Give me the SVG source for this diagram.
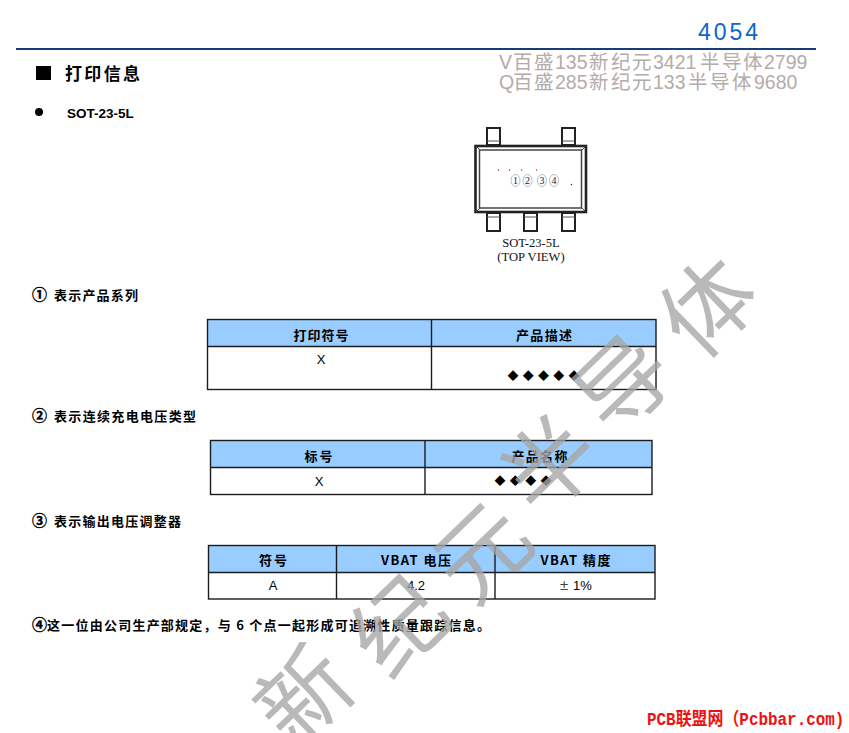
<svg xmlns="http://www.w3.org/2000/svg" width="849" height="733" viewBox="0 0 849 733">
<style>
text{font-family:"Liberation Sans","Noto Sans CJK SC",sans-serif;fill:#000}
.cjk{font-family:"Noto Sans CJK SC",sans-serif;font-weight:700}
.sec{font-size:13px}
.circ{font-size:15px;stroke:#000;stroke-width:.4}
.th{font-size:13px;text-anchor:middle}
.td{font-size:13px;text-anchor:middle}
.gr{font-size:19.500px;fill:#b3aca8;font-family:"Liberation Sans","Noto Sans CJK SC",sans-serif}
.ser{font-family:"Liberation Serif",serif;font-size:12.600px;text-anchor:middle;fill:#111}
.wm{font-family:"Noto Sans CJK SC",sans-serif;font-size:92px;text-anchor:middle;fill:#a6a6a6;opacity:.78}
.dia{font-size:11px}
.hd{fill:#99ccff}
.ln{fill:none;stroke:#1c1c1c;stroke-width:1.4}
.ci{fill:#fff;stroke:#8f9db0;stroke-width:.7}
.n{font-family:"Liberation Serif",serif;font-size:10px;text-anchor:middle;fill:#222}
</style>
<g id="page-header">
<rect x="16" y="48" width="800" height="2" fill="#1b3a78"/>
<text x="698" y="40" font-size="23" textLength="60" lengthAdjust="spacing" style="fill:#0a66cc">4054</text>
<text class="gr" y="69"><tspan x="499">V</tspan><tspan x="513">百</tspan><tspan x="534">盛</tspan><tspan x="555">135</tspan><tspan x="589">新</tspan><tspan x="611">纪</tspan><tspan x="632">元</tspan><tspan x="653">3421</tspan><tspan x="700">半</tspan><tspan x="722">导</tspan><tspan x="743">体</tspan><tspan x="764">2799</tspan></text>
<text class="gr" y="89"><tspan x="499">Q</tspan><tspan x="513">百</tspan><tspan x="534">盛</tspan><tspan x="555">285</tspan><tspan x="589">新</tspan><tspan x="611">纪</tspan><tspan x="632">元</tspan><tspan x="653">133</tspan><tspan x="688">半</tspan><tspan x="710">导</tspan><tspan x="732">体</tspan><tspan x="754">9680</tspan></text>
</g>
<g id="title">
<rect x="36" y="66" width="15" height="14" fill="#000"/>
<text class="cjk" x="65" y="79.500" font-size="17" textLength="75" lengthAdjust="spacing">打印信息</text>
<circle cx="39" cy="112" r="4" fill="#000"/>
<text x="67" y="118" font-size="13.500" font-weight="700">SOT-23-5L</text>
</g>
<g id="package">
<g fill="#fff" stroke="#222" stroke-width="2">
<rect x="487" y="128" width="13" height="17"/><rect x="562" y="128" width="13" height="17"/>
<rect x="487" y="213" width="13" height="18"/><rect x="524" y="213" width="13" height="18"/><rect x="562" y="213" width="13" height="18"/>
</g>
<path d="M487 141H500M562 141H575M487 217H500M524 217H537M562 217H575" stroke="#555" stroke-width="1"/>
<rect x="475.500" y="146" width="110.500" height="66" fill="#fff" stroke="#222" stroke-width="2.600"/>
<rect x="479.500" y="150" width="102" height="58" fill="#fff" stroke="#444" stroke-width="1.500"/>
<path d="M476 146L480 150M586 146L582 150M476 212L480 208M586 212L582 208" stroke="#444" stroke-width="1"/>
<g fill="#b02020"><circle cx="498.500" cy="170" r=".7"/><circle cx="509.500" cy="170" r=".7"/><circle cx="521.500" cy="170" r=".7"/><circle cx="536.500" cy="170" r=".7"/></g>
<circle cx="571.500" cy="184.500" r=".7" fill="#222"/>
<ellipse class="ci" cx="515.500" cy="180.500" rx="4.500" ry="6"/><text class="n" x="515.500" y="184">1</text>
<ellipse class="ci" cx="527.500" cy="180.500" rx="4.500" ry="6"/><text class="n" x="527.500" y="184">2</text>
<ellipse class="ci" cx="542" cy="180.500" rx="4.500" ry="6"/><text class="n" x="542" y="184">3</text>
<ellipse class="ci" cx="554" cy="180.500" rx="4.500" ry="6"/><text class="n" x="554" y="184">4</text>
<text class="ser" x="531" y="247">SOT-23-5L</text>
<text class="ser" x="531" y="261">(TOP VIEW)</text>
</g>
<g id="section-1">
<text class="cjk circ" x="32" y="300">①</text>
<text class="cjk sec" x="54" y="299.500" textLength="84" lengthAdjust="spacing">表示产品系列</text>
</g>
<g id="table-1">
<rect class="hd" x="207" y="319" width="449" height="27.500"/>
<rect class="ln" x="207.500" y="319.500" width="448.500" height="70"/>
<path class="ln" d="M207 346.500H656M431.500 319V389"/>
<text class="cjk th" x="321" y="340" textLength="55" lengthAdjust="spacing">打印符号</text>
<text class="cjk th" x="544" y="340" textLength="56" lengthAdjust="spacing">产品描述</text>
<text class="td" x="321" y="364">X</text>
<text class="cjk dia" x="507.500" y="380" textLength="72" lengthAdjust="spacing">◆◆◆◆◆</text>
</g>
<g id="section-2">
<text class="cjk circ" x="32" y="421">②</text>
<text class="cjk sec" x="54" y="420.500" textLength="142" lengthAdjust="spacing">表示连续充电电压类型</text>
</g>
<g id="table-2">
<rect class="hd" x="210.500" y="440" width="441.500" height="27.500"/>
<rect class="ln" x="210.500" y="440.500" width="441.500" height="54"/>
<path class="ln" d="M210 467.500H652M425 440V494"/>
<text class="cjk th" x="318.500" y="461" textLength="28" lengthAdjust="spacing">标号</text>
<text class="cjk th" x="539.500" y="461" textLength="56" lengthAdjust="spacing">产品名称</text>
<text class="td" x="319" y="486">X</text>
<text class="cjk dia" x="494.500" y="485" textLength="57" lengthAdjust="spacing">◆◆◆◆</text>
</g>
<g id="section-3">
<text class="cjk circ" x="32" y="526">③</text>
<text class="cjk sec" x="54" y="525.500" textLength="127" lengthAdjust="spacing">表示输出电压调整器</text>
</g>
<g id="table-3">
<rect class="hd" x="208" y="545" width="447" height="27.500"/>
<rect class="ln" x="208.500" y="545.500" width="446.500" height="53.500"/>
<path class="ln" d="M208 572.500H655M336.500 545V599M495 545V599"/>
<text class="cjk th" x="273" y="565" textLength="28" lengthAdjust="spacing">符号</text>
<text class="cjk th" x="416" y="565" textLength="70" lengthAdjust="spacing">VBAT 电压</text>
<text class="cjk th" x="575.500" y="565" textLength="70" lengthAdjust="spacing">VBAT 精度</text>
<text class="td" x="273" y="590">A</text>
<text class="td" x="416" y="590">4.2</text>
<text font-size="13" y="590"><tspan x="560" font-size="15" style="fill:#444">±</tspan><tspan x="573">1%</tspan></text>
</g>
<g id="section-4">
<text class="cjk circ" x="32" y="630">④</text>
<text class="cjk" x="47" y="630" font-size="13" textLength="443" lengthAdjust="spacing">这一位由公司生产部规定，与 6 个点一起形成可追溯性质量跟踪信息。</text>
</g>
<g id="watermark">
<text class="wm" transform="translate(305 697) rotate(-44)" y="32">新</text>
<text class="wm" transform="translate(400 627) rotate(-44)" y="32">纪</text>
<text class="wm" transform="translate(483 553) rotate(-44)" y="32">元</text>
<text class="wm" transform="translate(551 466) rotate(-44)" y="32">半</text>
<text class="wm" transform="translate(624 385) rotate(-44)" y="32">导</text>
<text class="wm" transform="translate(709 308) rotate(-44)" y="32">体</text>
</g>
<g id="footer">
<text transform="translate(647 725) scale(.885 1)" font-size="18" font-weight="700" style="fill:#ee1111;font-family:'Liberation Mono','Noto Sans CJK SC',monospace">PCB联盟网（Pcbbar.com)</text>
</g>
</svg>
